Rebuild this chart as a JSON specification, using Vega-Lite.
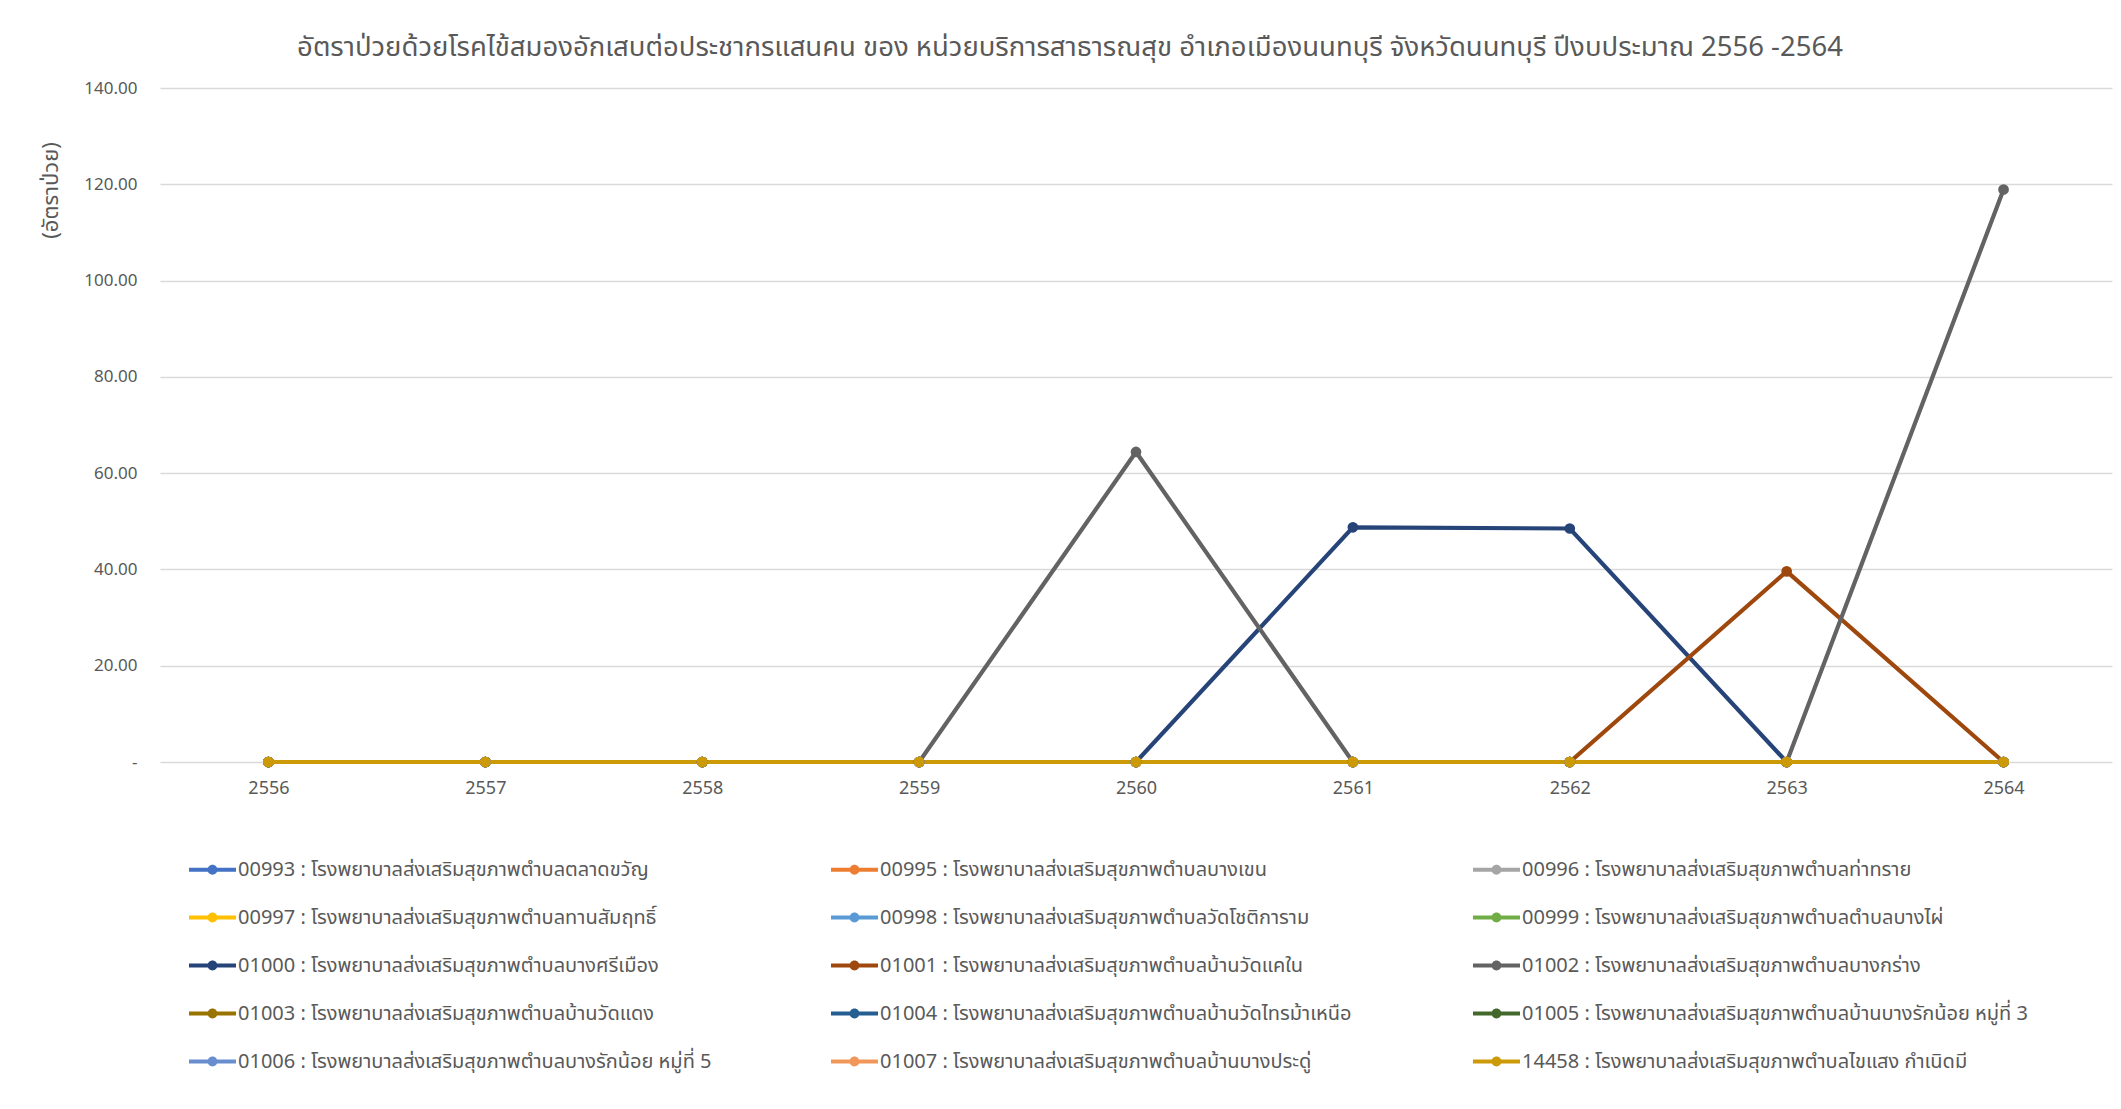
{
  "$schema": "https://vega.github.io/schema/vega-lite/v6.json",
  "autosize": "none",
  "padding": {"left": 160, "top": 88, "right": 9, "bottom": 347},
  "width": 1952,
  "height": 674,
  "background": "white",
  "config": {
    "font": "Tahoma, 'Noto Sans Thai', 'Noto Sans', sans-serif",
    "view": {"stroke": null}
  },
  "title": {
    "text": "อัตราป่วยด้วยโรคไข้สมองอักเสบต่อประชากรแสนคน ของ หน่วยบริการสาธารณสุข อำเภอเมืองนนทบุรี จังหวัดนนทบุรี ปีงบประมาณ 2556 -2564",
    "fontSize": 27.5,
    "fontWeight": "normal",
    "color": "#595959",
    "anchor": "middle",
    "dx": -66,
    "offset": 18
  },
  "datasets": {
    "names": [
      {"code": "00993", "label": "00993 : โรงพยาบาลส่งเสริมสุขภาพตำบลตลาดขวัญ"},
      {"code": "00995", "label": "00995 : โรงพยาบาลส่งเสริมสุขภาพตำบลบางเขน"},
      {"code": "00996", "label": "00996 : โรงพยาบาลส่งเสริมสุขภาพตำบลท่าทราย"},
      {"code": "00997", "label": "00997 : โรงพยาบาลส่งเสริมสุขภาพตำบลทานสัมฤทธิ์"},
      {"code": "00998", "label": "00998 : โรงพยาบาลส่งเสริมสุขภาพตำบลวัดโชติการาม"},
      {"code": "00999", "label": "00999 : โรงพยาบาลส่งเสริมสุขภาพตำบลตำบลบางไผ่"},
      {"code": "01000", "label": "01000 : โรงพยาบาลส่งเสริมสุขภาพตำบลบางศรีเมือง"},
      {"code": "01001", "label": "01001 : โรงพยาบาลส่งเสริมสุขภาพตำบลบ้านวัดแคใน"},
      {"code": "01002", "label": "01002 : โรงพยาบาลส่งเสริมสุขภาพตำบลบางกร่าง"},
      {"code": "01003", "label": "01003 : โรงพยาบาลส่งเสริมสุขภาพตำบลบ้านวัดแดง"},
      {"code": "01004", "label": "01004 : โรงพยาบาลส่งเสริมสุขภาพตำบลบ้านวัดไทรม้าเหนือ"},
      {"code": "01005", "label": "01005 : โรงพยาบาลส่งเสริมสุขภาพตำบลบ้านบางรักน้อย หมู่ที่ 3"},
      {"code": "01006", "label": "01006 : โรงพยาบาลส่งเสริมสุขภาพตำบลบางรักน้อย หมู่ที่ 5"},
      {"code": "01007", "label": "01007 : โรงพยาบาลส่งเสริมสุขภาพตำบลบ้านบางประดู่"},
      {"code": "14458", "label": "14458 : โรงพยาบาลส่งเสริมสุขภาพตำบลไขแสง กำเนิดมี"}
    ],
    "rates": [
      {"year":"2556","code":"00993","rate":0},{"year":"2557","code":"00993","rate":0},{"year":"2558","code":"00993","rate":0},{"year":"2559","code":"00993","rate":0},{"year":"2560","code":"00993","rate":0},{"year":"2561","code":"00993","rate":0},{"year":"2562","code":"00993","rate":0},{"year":"2563","code":"00993","rate":0},{"year":"2564","code":"00993","rate":0},
      {"year":"2556","code":"00995","rate":0},{"year":"2557","code":"00995","rate":0},{"year":"2558","code":"00995","rate":0},{"year":"2559","code":"00995","rate":0},{"year":"2560","code":"00995","rate":0},{"year":"2561","code":"00995","rate":0},{"year":"2562","code":"00995","rate":0},{"year":"2563","code":"00995","rate":0},{"year":"2564","code":"00995","rate":0},
      {"year":"2556","code":"00996","rate":0},{"year":"2557","code":"00996","rate":0},{"year":"2558","code":"00996","rate":0},{"year":"2559","code":"00996","rate":0},{"year":"2560","code":"00996","rate":0},{"year":"2561","code":"00996","rate":0},{"year":"2562","code":"00996","rate":0},{"year":"2563","code":"00996","rate":0},{"year":"2564","code":"00996","rate":0},
      {"year":"2556","code":"00997","rate":0},{"year":"2557","code":"00997","rate":0},{"year":"2558","code":"00997","rate":0},{"year":"2559","code":"00997","rate":0},{"year":"2560","code":"00997","rate":0},{"year":"2561","code":"00997","rate":0},{"year":"2562","code":"00997","rate":0},{"year":"2563","code":"00997","rate":0},{"year":"2564","code":"00997","rate":0},
      {"year":"2556","code":"00998","rate":0},{"year":"2557","code":"00998","rate":0},{"year":"2558","code":"00998","rate":0},{"year":"2559","code":"00998","rate":0},{"year":"2560","code":"00998","rate":0},{"year":"2561","code":"00998","rate":0},{"year":"2562","code":"00998","rate":0},{"year":"2563","code":"00998","rate":0},{"year":"2564","code":"00998","rate":0},
      {"year":"2556","code":"00999","rate":0},{"year":"2557","code":"00999","rate":0},{"year":"2558","code":"00999","rate":0},{"year":"2559","code":"00999","rate":0},{"year":"2560","code":"00999","rate":0},{"year":"2561","code":"00999","rate":0},{"year":"2562","code":"00999","rate":0},{"year":"2563","code":"00999","rate":0},{"year":"2564","code":"00999","rate":0},
      {"year":"2556","code":"01000","rate":0},{"year":"2557","code":"01000","rate":0},{"year":"2558","code":"01000","rate":0},{"year":"2559","code":"01000","rate":0},{"year":"2560","code":"01000","rate":0},{"year":"2561","code":"01000","rate":48.75},{"year":"2562","code":"01000","rate":48.5},{"year":"2563","code":"01000","rate":0},{"year":"2564","code":"01000","rate":0},
      {"year":"2556","code":"01001","rate":0},{"year":"2557","code":"01001","rate":0},{"year":"2558","code":"01001","rate":0},{"year":"2559","code":"01001","rate":0},{"year":"2560","code":"01001","rate":0},{"year":"2561","code":"01001","rate":0},{"year":"2562","code":"01001","rate":0},{"year":"2563","code":"01001","rate":39.6},{"year":"2564","code":"01001","rate":0},
      {"year":"2556","code":"01002","rate":0},{"year":"2557","code":"01002","rate":0},{"year":"2558","code":"01002","rate":0},{"year":"2559","code":"01002","rate":0},{"year":"2560","code":"01002","rate":64.4},{"year":"2561","code":"01002","rate":0},{"year":"2562","code":"01002","rate":0},{"year":"2563","code":"01002","rate":0},{"year":"2564","code":"01002","rate":118.9},
      {"year":"2556","code":"01003","rate":0},{"year":"2557","code":"01003","rate":0},{"year":"2558","code":"01003","rate":0},{"year":"2559","code":"01003","rate":0},{"year":"2560","code":"01003","rate":0},{"year":"2561","code":"01003","rate":0},{"year":"2562","code":"01003","rate":0},{"year":"2563","code":"01003","rate":0},{"year":"2564","code":"01003","rate":0},
      {"year":"2556","code":"01004","rate":0},{"year":"2557","code":"01004","rate":0},{"year":"2558","code":"01004","rate":0},{"year":"2559","code":"01004","rate":0},{"year":"2560","code":"01004","rate":0},{"year":"2561","code":"01004","rate":0},{"year":"2562","code":"01004","rate":0},{"year":"2563","code":"01004","rate":0},{"year":"2564","code":"01004","rate":0},
      {"year":"2556","code":"01005","rate":0},{"year":"2557","code":"01005","rate":0},{"year":"2558","code":"01005","rate":0},{"year":"2559","code":"01005","rate":0},{"year":"2560","code":"01005","rate":0},{"year":"2561","code":"01005","rate":0},{"year":"2562","code":"01005","rate":0},{"year":"2563","code":"01005","rate":0},{"year":"2564","code":"01005","rate":0},
      {"year":"2556","code":"01006","rate":0},{"year":"2557","code":"01006","rate":0},{"year":"2558","code":"01006","rate":0},{"year":"2559","code":"01006","rate":0},{"year":"2560","code":"01006","rate":0},{"year":"2561","code":"01006","rate":0},{"year":"2562","code":"01006","rate":0},{"year":"2563","code":"01006","rate":0},{"year":"2564","code":"01006","rate":0},
      {"year":"2556","code":"01007","rate":0},{"year":"2557","code":"01007","rate":0},{"year":"2558","code":"01007","rate":0},{"year":"2559","code":"01007","rate":0},{"year":"2560","code":"01007","rate":0},{"year":"2561","code":"01007","rate":0},{"year":"2562","code":"01007","rate":0},{"year":"2563","code":"01007","rate":0},{"year":"2564","code":"01007","rate":0},
      {"year":"2556","code":"14458","rate":0},{"year":"2557","code":"14458","rate":0},{"year":"2558","code":"14458","rate":0},{"year":"2559","code":"14458","rate":0},{"year":"2560","code":"14458","rate":0},{"year":"2561","code":"14458","rate":0},{"year":"2562","code":"14458","rate":0},{"year":"2563","code":"14458","rate":0},{"year":"2564","code":"14458","rate":0}
    ]
  },
  "data": {"name": "rates"},
  "transform": [
    {"lookup": "code", "from": {"data": {"name": "names"}, "key": "code", "fields": ["label"]}}
  ],
  "encoding": {
    "x": {
      "field": "year",
      "type": "ordinal",
      "scale": {"type": "point", "padding": 0.5},
      "axis": {
        "title": null,
        "labelAngle": 0,
        "labelFontSize": 18,
        "labelColor": "#595959",
        "labelPadding": 17,
        "ticks": false,
        "domain": false,
        "grid": false
      }
    },
    "y": {
      "field": "rate",
      "type": "quantitative",
      "scale": {"domain": [0, 140], "nice": false},
      "axis": {
        "values": [0, 20, 40, 60, 80, 100, 120, 140],
        "labelExpr": "datum.value == 0 ? '-' : format(datum.value, '.2f')",
        "labelFontSize": 17,
        "labelColor": "#595959",
        "labelPadding": 23,
        "ticks": false,
        "domain": false,
        "grid": true,
        "gridColor": "#D9D9D9",
        "gridWidth": 1.3,
        "title": "(อัตราป่วย)",
        "titleFontSize": 22,
        "titleFontWeight": "normal",
        "titleColor": "#595959",
        "titleAngle": -90,
        "titleAnchor": null,
        "titleAlign": "center",
        "titleBaseline": "middle",
        "titleX": -110,
        "titleY": 102
      }
    },
    "color": {
      "field": "label",
      "type": "nominal",
      "scale": {
        "domain": [
          "00993 : โรงพยาบาลส่งเสริมสุขภาพตำบลตลาดขวัญ",
          "00995 : โรงพยาบาลส่งเสริมสุขภาพตำบลบางเขน",
          "00996 : โรงพยาบาลส่งเสริมสุขภาพตำบลท่าทราย",
          "00997 : โรงพยาบาลส่งเสริมสุขภาพตำบลทานสัมฤทธิ์",
          "00998 : โรงพยาบาลส่งเสริมสุขภาพตำบลวัดโชติการาม",
          "00999 : โรงพยาบาลส่งเสริมสุขภาพตำบลตำบลบางไผ่",
          "01000 : โรงพยาบาลส่งเสริมสุขภาพตำบลบางศรีเมือง",
          "01001 : โรงพยาบาลส่งเสริมสุขภาพตำบลบ้านวัดแคใน",
          "01002 : โรงพยาบาลส่งเสริมสุขภาพตำบลบางกร่าง",
          "01003 : โรงพยาบาลส่งเสริมสุขภาพตำบลบ้านวัดแดง",
          "01004 : โรงพยาบาลส่งเสริมสุขภาพตำบลบ้านวัดไทรม้าเหนือ",
          "01005 : โรงพยาบาลส่งเสริมสุขภาพตำบลบ้านบางรักน้อย หมู่ที่ 3",
          "01006 : โรงพยาบาลส่งเสริมสุขภาพตำบลบางรักน้อย หมู่ที่ 5",
          "01007 : โรงพยาบาลส่งเสริมสุขภาพตำบลบ้านบางประดู่",
          "14458 : โรงพยาบาลส่งเสริมสุขภาพตำบลไขแสง กำเนิดมี"
        ],
        "range": ["#4472C4", "#ED7D31", "#A5A5A5", "#FFC000", "#5B9BD5", "#70AD47", "#264478", "#9E480E", "#636363", "#997300", "#255E91", "#43682B", "#698ED0", "#F1975A", "#CC9A06"]
      },
      "legend": {
        "orient": "none",
        "legendX": 29,
        "legendY": 758,
        "title": null,
        "columns": 3,
        "direction": "horizontal",
        "gridAlign": "all",
        "columnPadding": 87,
        "rowPadding": 14,
        "padding": 0,
        "symbolType": "M-1,-0.08H1V0.08H-1Z M0.21,0A0.21,0.21,0,1,1,-0.21,0A0.21,0.21,0,1,1,0.21,0Z",
        "symbolSize": 2209,
        "symbolStrokeWidth": 0,
        "symbolOpacity": 1,
        "labelFontSize": 20,
        "labelColor": "#595959",
        "labelLimit": 700,
        "labelOffset": 2,
        "encode": {
          "symbols": {
            "update": {
              "fill": {"scale": "color", "field": "value"},
              "strokeWidth": {"value": 0},
              "opacity": {"value": 1}
            }
          }
        }
      }
    }
  },
  "layer": [
    {"mark": {"type": "line", "strokeWidth": 4.2}},
    {"mark": {"type": "point", "filled": true, "size": 115, "opacity": 1}}
  ]
}
